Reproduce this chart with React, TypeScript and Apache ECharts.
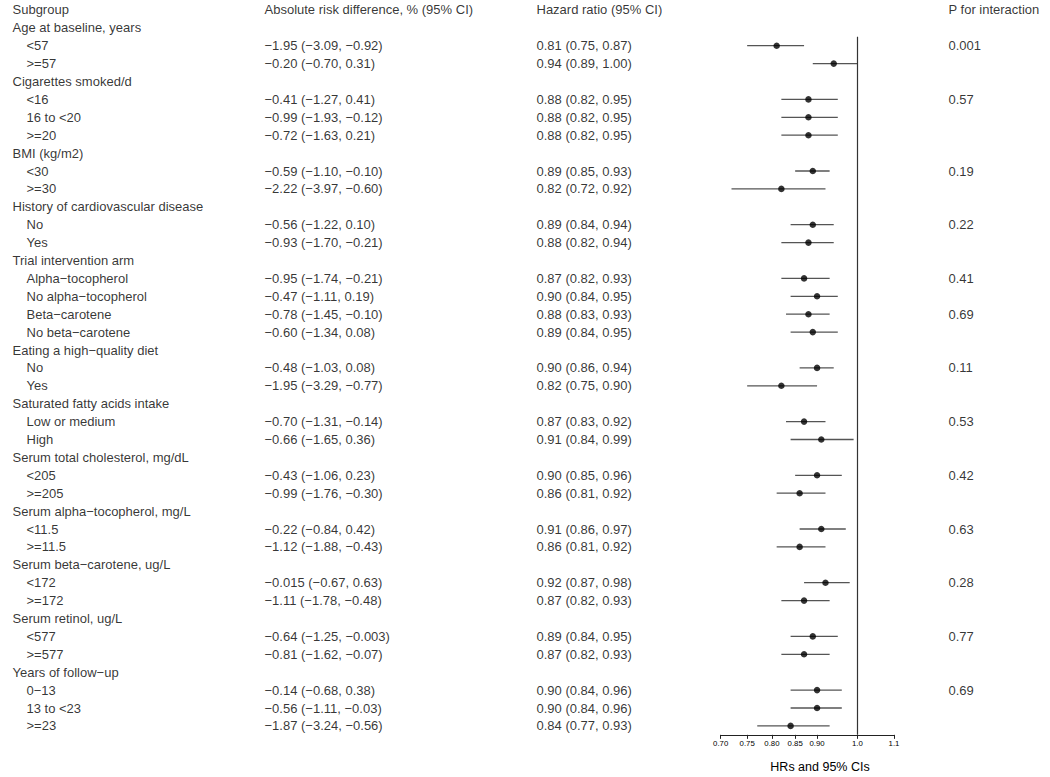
import React, { useEffect, useRef } from "react";
import * as echarts from "echarts";

const M = "\u2212";

const groupNames = [
  "Age at baseline, years",
  "Cigarettes smoked/d",
  "BMI (kg/m2)",
  "History of cardiovascular disease",
  "Trial intervention arm",
  `Eating a high${M}quality diet`,
  "Saturated fatty acids intake",
  "Serum total cholesterol, mg/dL",
  `Serum alpha${M}tocopherol, mg/L`,
  `Serum beta${M}carotene, ug/L`,
  "Serum retinol, ug/L",
  `Years of follow${M}up`,
];

const subgroupNames = [
  "<57", ">=57",
  "<16", "16 to <20", ">=20",
  "<30", ">=30",
  "No", "Yes",
  `Alpha${M}tocopherol`, `No alpha${M}tocopherol`, `Beta${M}carotene`, `No beta${M}carotene`,
  "No", "Yes",
  "Low or medium", "High",
  "<205", ">=205",
  "<11.5", ">=11.5",
  "<172", ">=172",
  "<577", ">=577",
  `0${M}13`, "13 to <23", ">=23",
];

const subgroupGroup = [0, 0, 1, 1, 1, 2, 2, 3, 3, 4, 4, 4, 4, 5, 5, 6, 6, 7, 7, 8, 8, 9, 9, 10, 10, 11, 11, 11];

const ardText = [
  `${M}1.95 (${M}3.09, ${M}0.92)`,
  `${M}0.20 (${M}0.70, 0.31)`,
  `${M}0.41 (${M}1.27, 0.41)`,
  `${M}0.99 (${M}1.93, ${M}0.12)`,
  `${M}0.72 (${M}1.63, 0.21)`,
  `${M}0.59 (${M}1.10, ${M}0.10)`,
  `${M}2.22 (${M}3.97, ${M}0.60)`,
  `${M}0.56 (${M}1.22, 0.10)`,
  `${M}0.93 (${M}1.70, ${M}0.21)`,
  `${M}0.95 (${M}1.74, ${M}0.21)`,
  `${M}0.47 (${M}1.11, 0.19)`,
  `${M}0.78 (${M}1.45, ${M}0.10)`,
  `${M}0.60 (${M}1.34, 0.08)`,
  `${M}0.48 (${M}1.03, 0.08)`,
  `${M}1.95 (${M}3.29, ${M}0.77)`,
  `${M}0.70 (${M}1.31, ${M}0.14)`,
  `${M}0.66 (${M}1.65, 0.36)`,
  `${M}0.43 (${M}1.06, 0.23)`,
  `${M}0.99 (${M}1.76, ${M}0.30)`,
  `${M}0.22 (${M}0.84, 0.42)`,
  `${M}1.12 (${M}1.88, ${M}0.43)`,
  `${M}0.015 (${M}0.67, 0.63)`,
  `${M}1.11 (${M}1.78, ${M}0.48)`,
  `${M}0.64 (${M}1.25, ${M}0.003)`,
  `${M}0.81 (${M}1.62, ${M}0.07)`,
  `${M}0.14 (${M}0.68, 0.38)`,
  `${M}0.56 (${M}1.11, ${M}0.03)`,
  `${M}1.87 (${M}3.24, ${M}0.56)`,
];

const hr = [0.81, 0.94, 0.88, 0.88, 0.88, 0.89, 0.82, 0.89, 0.88, 0.87, 0.90, 0.88, 0.89, 0.90, 0.82, 0.87, 0.91, 0.90, 0.86, 0.91, 0.86, 0.92, 0.87, 0.89, 0.87, 0.90, 0.90, 0.84];
const hrLow = [0.75, 0.89, 0.82, 0.82, 0.82, 0.85, 0.72, 0.84, 0.82, 0.82, 0.84, 0.83, 0.84, 0.86, 0.75, 0.83, 0.84, 0.85, 0.81, 0.86, 0.81, 0.87, 0.82, 0.84, 0.82, 0.84, 0.84, 0.77];
const hrHigh = [0.87, 1.00, 0.95, 0.95, 0.95, 0.93, 0.92, 0.94, 0.94, 0.93, 0.95, 0.93, 0.95, 0.94, 0.90, 0.92, 0.99, 0.96, 0.92, 0.97, 0.92, 0.98, 0.93, 0.95, 0.93, 0.96, 0.96, 0.93];
const pInteraction = ["0.001", "", "0.57", "", "", "0.19", "", "0.22", "", "0.41", "", "0.69", "", "0.11", "", "0.53", "", "0.42", "", "0.63", "", "0.28", "", "0.77", "", "0.69", "", ""];

const headers = ["Subgroup", "Absolute risk difference, % (95% CI)", "Hazard ratio (95% CI)", "P for interaction"];
const tickValues = [0.7, 0.75, 0.8, 0.85, 0.9, 1.0, 1.1];
const tickLabels = ["0.70", "0.75", "0.80", "0.85", "0.90", "1.0", "1.1"];
const axisTitle = "HRs and 95% CIs";

const FONT = "'Liberation Sans', Arial, Helvetica, sans-serif";

export default function App() {
  const ref = useRef<HTMLDivElement>(null);
  useEffect(() => {
    if (!ref.current) return;
    const chart = echarts.init(ref.current, null, { renderer: "svg" });

    const colX = { sub: 12, subIndent: 26, ard: 264, hr: 536, p: 948 };
    const labelCol: any[] = [];
    const ardCol: any[] = [];
    const hrCol: any[] = [];
    const pCol: any[] = [];
    const dots: any[] = [];
    const cis: any[] = [];
    labelCol.push({ name: headers[0], value: [colX.sub, 0] });
    ardCol.push({ name: headers[1], value: [colX.ard, 0] });
    hrCol.push({ name: headers[2], value: [colX.hr, 0] });
    pCol.push({ name: headers[3], value: [colX.p, 0] });
    let row = 1;
    let lastGroup = -1;
    for (let i = 0; i < subgroupNames.length; i++) {
      const g = subgroupGroup[i];
      if (g !== lastGroup) {
        labelCol.push({ name: groupNames[g], value: [colX.sub, row] });
        row++;
        lastGroup = g;
      }
      labelCol.push({ name: subgroupNames[i], value: [colX.subIndent, row] });
      ardCol.push({ name: ardText[i], value: [colX.ard, row] });
      hrCol.push({
        name: `${hr[i].toFixed(2)} (${hrLow[i].toFixed(2)}, ${hrHigh[i].toFixed(2)})`,
        value: [colX.hr, row],
      });
      if (pInteraction[i]) pCol.push({ name: pInteraction[i], value: [colX.p, row] });
      dots.push([Math.log(hr[i]), row]);
      cis.push([Math.log(hrLow[i]), Math.log(hrHigh[i]), row]);
      row++;
    }
    const nRows = row;

    const rowH = 17.9;
    const row0 = 9.9;
    const yMin = 1.5;
    const yMax = nRows - 0.5;
    const plotLeft = 720.7;
    const plotWidth = 173.3;

    const textSeries = (data: any[]) => ({
      type: "scatter",
      xAxisIndex: 1,
      yAxisIndex: 1,
      symbolSize: 1,
      itemStyle: { color: "rgba(0,0,0,0)" },
      silent: true,
      clip: false,
      data,
      label: {
        show: true,
        position: "right",
        distance: 0,
        formatter: "{b}",
        color: "#000",
        fontSize: 13,
        fontFamily: FONT,
        align: "left",
        verticalAlign: "middle",
      },
    });

    chart.setOption({
      animation: false,
      grid: [
        {
          left: plotLeft,
          top: row0 + yMin * rowH,
          width: plotWidth,
          height: (yMax - yMin) * rowH,
        },
        {
          left: 0,
          top: row0 - 0.5 * rowH,
          width: 1050,
          height: nRows * rowH,
        },
      ],
      xAxis: [
        {
          gridIndex: 0,
          type: "value",
          min: Math.log(0.7),
          max: Math.log(1.1),
          axisLine: { show: true, onZero: false, lineStyle: { color: "#222", width: 1 } },
          axisTick: {
            show: true,
            customValues: tickValues.map((v) => Math.log(v)),
            length: 4,
            lineStyle: { color: "#222", width: 1 },
          },
          axisLabel: {
            customValues: tickValues.map((v) => Math.log(v)),
            formatter: (v: number) => {
              const idx = tickValues.findIndex((t) => Math.abs(Math.log(t) - v) < 1e-6);
              return idx >= 0 ? tickLabels[idx] : "";
            },
            fontSize: 7.8,
            color: "#000",
            margin: 5,
            fontFamily: FONT,
          },
          splitLine: { show: false },
        },
        { gridIndex: 1, type: "value", min: 0, max: 1050, show: false },
      ],
      yAxis: [
        { gridIndex: 0, type: "value", min: yMin, max: yMax, inverse: true, show: false },
        { gridIndex: 1, type: "value", min: -0.5, max: nRows - 0.5, inverse: true, show: false },
      ],
      graphic: [
        {
          type: "text",
          x: 820,
          y: 767,
          style: {
            text: axisTitle,
            fontSize: 12.5,
            fontFamily: FONT,
            fill: "#000",
            textAlign: "center",
            textVerticalAlign: "middle",
          },
        },
      ],
      series: [
        {
          type: "custom",
          xAxisIndex: 0,
          yAxisIndex: 0,
          data: cis,
          encode: { x: [0, 1], y: 2 },
          silent: true,
          renderItem: (params: any, api: any) => {
            const p1 = api.coord([api.value(0), api.value(2)]);
            const p2 = api.coord([api.value(1), api.value(2)]);
            return {
              type: "line",
              shape: { x1: p1[0], y1: p1[1], x2: p2[0], y2: p2[1] },
              style: { stroke: "#555", lineWidth: 1.3 },
            };
          },
          z: 2,
        },
        {
          type: "scatter",
          xAxisIndex: 0,
          yAxisIndex: 0,
          data: dots,
          symbol: "circle",
          symbolSize: 6.5,
          itemStyle: { color: "#000" },
          silent: true,
          z: 3,
          markLine: {
            silent: true,
            symbol: ["none", "none"],
            label: { show: false },
            lineStyle: { color: "#333", type: "solid", width: 1.2 },
            data: [{ xAxis: 0 }],
          },
        },
        textSeries(labelCol),
        textSeries(ardCol),
        textSeries(hrCol),
        textSeries(pCol),
      ],
    });
    return () => chart.dispose();
  }, []);
  return (
    <div
      ref={ref}
      style={{ position: "fixed", left: 0, top: 0, width: 1050, height: 777, background: "#fff" }}
    />
  );
}
